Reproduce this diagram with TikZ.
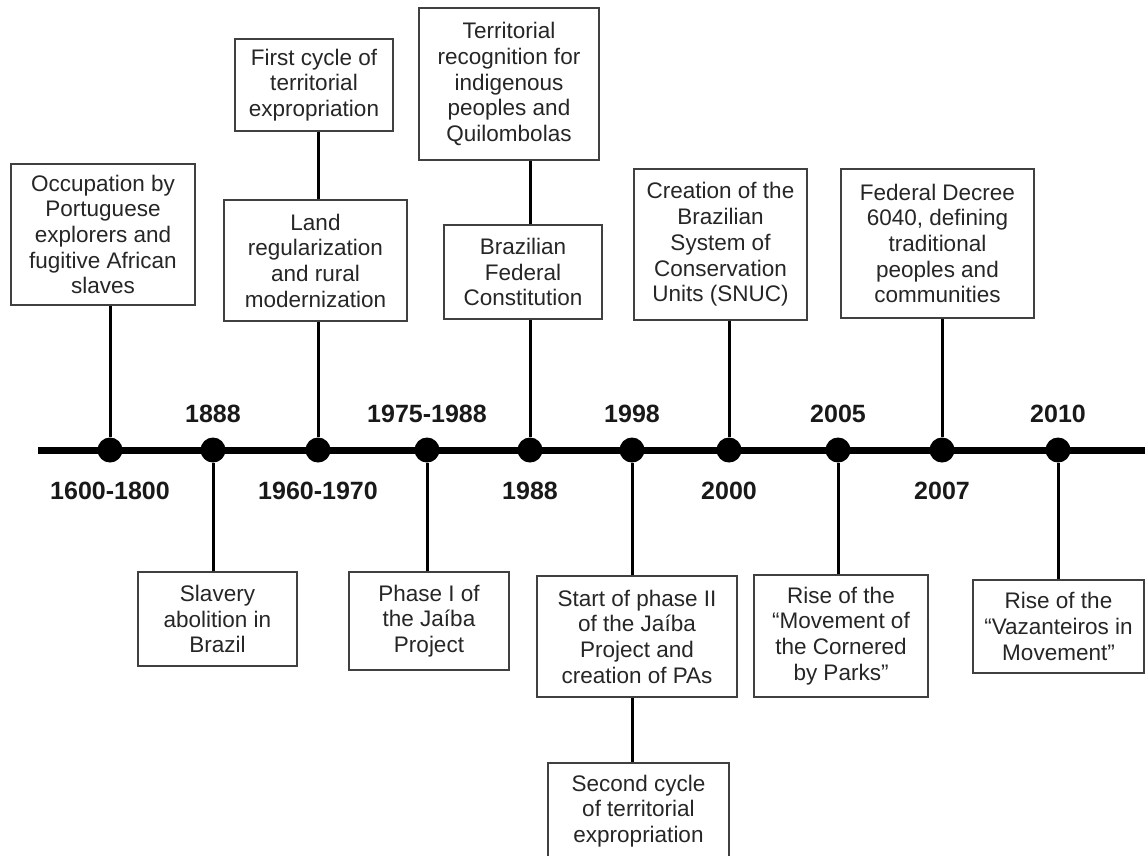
\documentclass[tikz,border=0pt]{standalone}
\usepackage{fontspec}
\setmainfont{Liberation Sans}
\usetikzlibrary{positioning}

\begin{document}
\begin{tikzpicture}[x=1pt, y=-1pt,
	evbox/.style={draw=black!75, line width=1.4pt, fill=white, align=center,
	inner sep=0pt, text=black!85, font=\fontsize{22.5}{25.7}\selectfont},
	tldot/.style={circle, fill=black, minimum size=25pt, inner sep=0pt},
	yr/.style={font=\fontsize{25}{28}\selectfont\bfseries, text=black!90},
	stem/.style={line width=3pt}
	]
	\useasboundingbox (0,0) rectangle (1145,855);
	
	% timeline
	\coordinate (tl-start) at (38,450);
	\coordinate (tl-end) at (1150,450);
	\draw[line width=7pt] (tl-start) -- (tl-end);
	
	\node[tldot] (d1) at (110,450) {};
	\node[tldot] (d2) at (213,450) {};
	\node[tldot] (d3) at (318,450) {};
	\node[tldot] (d4) at (427,450) {};
	\node[tldot] (d5) at (530,450) {};
	\node[tldot] (d6) at (632,450) {};
	\node[tldot] (d7) at (729,450) {};
	\node[tldot] (d8) at (838,450) {};
	\node[tldot] (d9) at (942,450) {};
	\node[tldot] (d10) at (1058,450) {};
	
	% years
	\node[yr] (y1) at (110,491) {1600-1800};
	\node[yr] (y2) at (213,414) {1888};
	\node[yr] (y3) at (318,491) {1960-1970};
	\node[yr] (y4) at (427,414) {1975-1988};
	\node[yr] (y5) at (530,491) {1988};
	\node[yr] (y6) at (632,414) {1998};
	\node[yr] (y7) at (729,491) {2000};
	\node[yr] (y8) at (838,414) {2005};
	\node[yr] (y9) at (942,491) {2007};
	\node[yr] (y10) at (1058,414) {2010};
	
	% events above the line
	\node[evbox, minimum width=184pt, minimum height=141pt] (occup) at (103,234.5)
	{Occupation by\\Portuguese\\explorers and\\fugitive African\\slaves};
	\node[evbox, minimum width=158pt, minimum height=92pt] (cycleA) at (314,85)
	{First cycle of\\territorial\\expropriation};
	\node[evbox, minimum width=183pt, minimum height=121pt] (landreg) at (315.5,260.5)
	{Land\\regularization\\and rural\\modernization};
	\node[evbox, minimum width=180pt, minimum height=152pt] (terrrec) at (509,84)
	{Territorial\\recognition for\\indigenous\\peoples and\\Quilombolas};
	\node[evbox, minimum width=158pt, minimum height=94pt] (constit) at (523,272)
	{Brazilian\\Federal\\Constitution};
	\node[evbox, minimum width=173pt, minimum height=151pt] (snuc) at (720.5,244.5)
	{Creation of the\\Brazilian\\System of\\Conservation\\Units (SNUC)};
	\node[evbox, minimum width=193pt, minimum height=149pt] (decree) at (937.5,243.5)
	{Federal Decree\\6040, defining\\traditional\\peoples and\\communities};
	
	% events below the line
	\node[evbox, minimum width=159pt, minimum height=94pt] (slavery) at (217.5,619)
	{Slavery\\abolition in\\Brazil};
	\node[evbox, minimum width=160pt, minimum height=98pt] (phaseA) at (429,621)
	{Phase I of\\the Jaíba\\Project};
	\node[evbox, minimum width=200pt, minimum height=121pt] (phaseB) at (637,636.5)
	{Start of phase II\\of the Jaíba\\Project and\\creation of PAs};
	\node[evbox, minimum width=181pt, minimum height=96pt] (cycleB) at (638.5,811)
	{Second cycle\\of territorial\\expropriation};
	\node[evbox, minimum width=174pt, minimum height=122pt] (cornered) at (841,636)
	{Rise of the\\“Movement of\\the Cornered\\by Parks”};
	\node[evbox, minimum width=171pt, minimum height=93pt] (vazant) at (1058.5,626.5)
	{Rise of the\\“Vazanteiros in\\Movement”};
	
	% stems
	\draw[stem] (occup.south -| d1) -- (d1.north);
	\draw[stem] (slavery.north -| d2) -- (d2.south);
	\draw[stem] (cycleA.south -| d3) -- (landreg.north -| d3);
	\draw[stem] (landreg.south -| d3) -- (d3.north);
	\draw[stem] (phaseA.north -| d4) -- (d4.south);
	\draw[stem] (terrrec.south -| d5) -- (constit.north -| d5);
	\draw[stem] (constit.south -| d5) -- (d5.north);
	\draw[stem] (phaseB.north -| d6) -- (d6.south);
	\draw[stem] (phaseB.south -| d6) -- (cycleB.north -| d6);
	\draw[stem] (snuc.south -| d7) -- (d7.north);
	\draw[stem] (cornered.north -| d8) -- (d8.south);
	\draw[stem] (decree.south -| d9) -- (d9.north);
	\draw[stem] (vazant.north -| d10) -- (d10.south);
\end{tikzpicture}
\end{document}
